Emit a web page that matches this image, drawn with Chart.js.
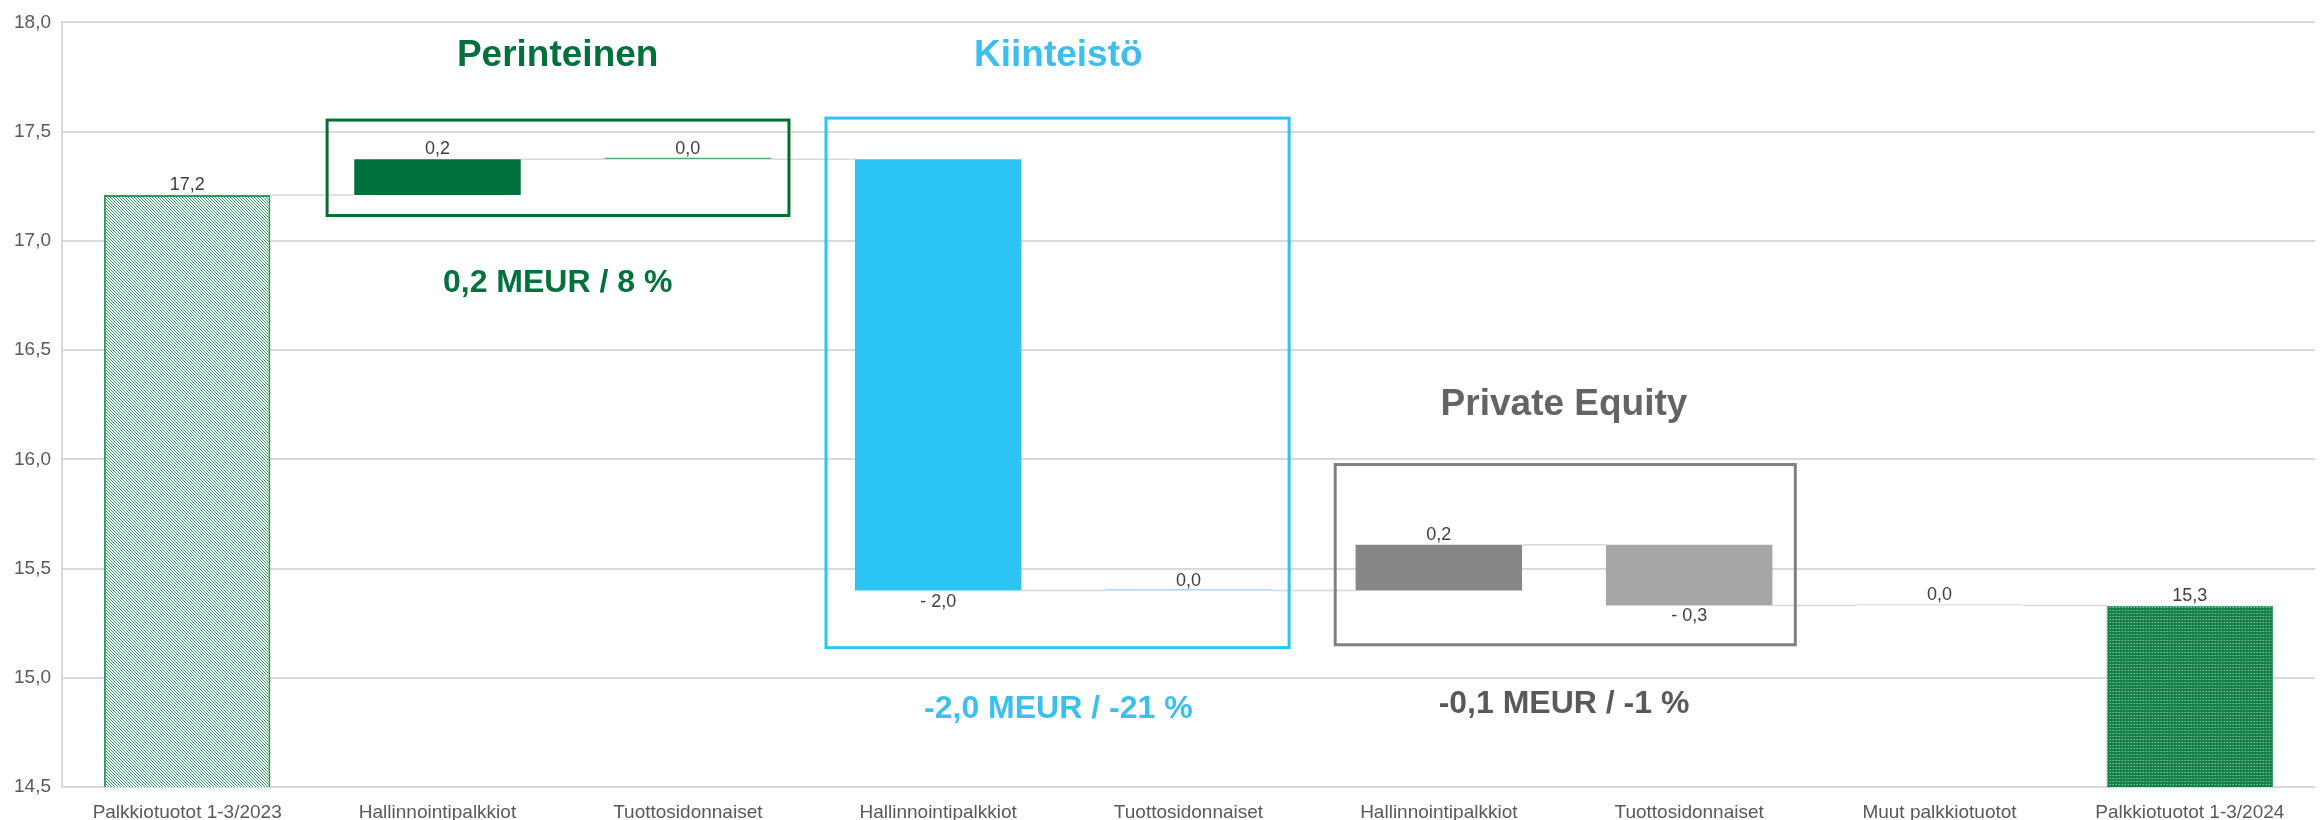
<!DOCTYPE html>
<html>
<head>
<meta charset="utf-8">
<title>Palkkiotuotot 1-3/2023 - 1-3/2024</title>
<script src="https://cdn.jsdelivr.net/npm/chart.js@4.4.1/dist/chart.umd.min.js"></script>
<style>
  html, body { margin: 0; padding: 0; background: #fff; }
  #wrap { width: 2321px; height: 820px; position: relative; }
</style>
</head>
<body>
<div id="wrap"><canvas id="feeChart"></canvas></div>
<script>
// Kategoriat (x-akseli)
const categories = [
    'Palkkiotuotot 1-3/2023',
    'Hallinnointipalkkiot',
    'Tuottosidonnaiset',
    'Hallinnointipalkkiot',
    'Tuottosidonnaiset',
    'Hallinnointipalkkiot',
    'Tuottosidonnaiset',
    'Muut palkkiotuotot',
    'Palkkiotuotot 1-3/2024'
];

// Alku- ja loppusumma (MEUR)
const totals = [17.21, 15.33];
// Muutokset välissä (MEUR)
const changes = [0.164, 0.0, -1.975, 0.0, 0.21, -0.278, 0.0];

// y-akselin asteikko
const yMin = 14.5;
const yMax = 18.0;
const yStep = 0.5;

// Ryhmät: otsikko ja yhteenveto
const groupTitles = ['Perinteinen', 'Kiinteistö', 'Private Equity'];
const groupSummaries = ['0,2 MEUR / 8 %', '-2,0 MEUR / -21 %', '-0,1 MEUR / -1 %'];

// Värit
const groupColors = ['#00703C', '#3CBFEF', '#646464'];

const canvas = document.getElementById('feeChart');
const ctx = canvas.getContext('2d');

// Vinoviivakuvio ensimmäiselle pylväälle
function makeHatch() {
    const c = document.createElement('canvas');
    c.width = 3; c.height = 3;
    const g = c.getContext('2d');
    g.fillStyle = '#ffffff';
    g.fillRect(0, 0, 3, 3);
    g.fillStyle = '#3a9f66';
    for (let i = 0; i < 3; i++) g.fillRect(i, i, 1, 1);
    return ctx.createPattern(c, 'repeat');
}

// Pistekuvio viimeiselle pylväälle
function makeDots() {
    const c = document.createElement('canvas');
    c.width = 3; c.height = 3;
    const g = c.getContext('2d');
    g.fillStyle = '#16804a';
    g.fillRect(0, 0, 3, 3);
    g.fillStyle = '#7cc29a';
    g.fillRect(1, 1, 1, 1);
    g.fillStyle = '#3f9e68';
    g.fillRect(0, 1, 1, 1);
    return ctx.createPattern(c, 'repeat');
}

// Rakennetaan vesiputouksen data
const barData = [totals[0]];
const levels = [totals[0]];
let running = totals[0];
changes.forEach(ch => {
    barData.push([running, running + ch]);
    running += ch;
    levels.push(running);
});
barData.push(totals[1]);
levels.push(totals[1]);

const labelValues = [totals[0], ...changes, totals[1]];

const barColors = [
    makeHatch(), '#00703C', '#4fae6f',
    '#2BC4F3', '#9fdcf5',
    '#878787', '#A6A6A6',
    '#e3e3e3', makeDots()
];
const borderColors = ['#2f9a5e', '#00703C', '#4fae6f', '#2BC4F3', '#9fdcf5', '#878787', '#A6A6A6', '#e3e3e3', '#2f9a5e'];
const borderWidths = [2, 0, 0, 0, 0, 0, 0, 0, 1];

function formatValue(v) {
    const s = Math.abs(v).toFixed(1).replace('.', ',');
    return v < -0.0001 ? '- ' + s : s;
}

// Laatikot ryhmien ympärillä (kategoria-indeksi, arvo)
const boxes = [
    { x0: 0.559, x1: 2.404, y0: 17.553, y1: 17.116, color: '#00702F' },
    { x0: 2.552, x1: 4.402, y0: 17.562, y1: 15.138, color: '#2DC3F2' },
    { x0: 4.586, x1: 6.424, y0: 15.976, y1: 15.151, color: '#808080' }
];
const texts = [
    { text: groupTitles[0], x: 1.48, y: 17.845, size: 37, color: groupColors[0] },
    { text: groupSummaries[0], x: 1.48, y: 16.806, size: 32, color: groupColors[0] },
    { text: groupTitles[1], x: 3.48, y: 17.845, size: 37, color: groupColors[1] },
    { text: groupSummaries[1], x: 3.48, y: 14.855, size: 32, color: groupColors[1] },
    { text: groupTitles[2], x: 5.5, y: 16.25, size: 37, color: groupColors[2] },
    { text: groupSummaries[2], x: 5.5, y: 14.877, size: 32, color: '#595959' }
];

const waterfallPlugin = {
    id: 'waterfall',
    beforeDatasetsDraw(chart) {
        const c = chart.ctx;
        const y = chart.scales.y;
        const bars = chart.getDatasetMeta(0).data;
        c.save();
        c.strokeStyle = '#d9d9d9';
        c.lineWidth = 1.5;
        for (let i = 0; i < bars.length - 1; i++) {
            const py = y.getPixelForValue(levels[i]);
            c.beginPath();
            c.moveTo(bars[i].x + bars[i].width / 2, py);
            c.lineTo(bars[i + 1].x - bars[i + 1].width / 2, py);
            c.stroke();
        }
        c.restore();
    },
    afterDatasetsDraw(chart) {
        const c = chart.ctx;
        const y = chart.scales.y;
        const bars = chart.getDatasetMeta(0).data;
        c.save();
        c.font = '18px "Liberation Sans", Arial, sans-serif';
        c.fillStyle = '#404040';
        c.textAlign = 'center';
        bars.forEach((bar, i) => {
            const v = labelValues[i];
            if (v < -0.0001) {
                c.textBaseline = 'top';
                c.fillText(formatValue(v), bar.x, y.getPixelForValue(levels[i]) + 2);
            } else {
                c.textBaseline = 'alphabetic';
                c.fillText(formatValue(v), bar.x, y.getPixelForValue(levels[i]) - 5);
            }
        });
        c.restore();
    },
    afterDraw(chart) {
        const c = chart.ctx;
        const x = chart.scales.x;
        const y = chart.scales.y;
        c.save();
        c.lineWidth = 3;
        boxes.forEach(b => {
            c.strokeStyle = b.color;
            const px0 = x.getPixelForValue(b.x0);
            const px1 = x.getPixelForValue(b.x1);
            const py0 = y.getPixelForValue(b.y0);
            const py1 = y.getPixelForValue(b.y1);
            c.strokeRect(px0, py0, px1 - px0, py1 - py0);
        });
        c.textAlign = 'center';
        c.textBaseline = 'middle';
        texts.forEach(t => {
            c.font = 'bold ' + t.size + 'px "Liberation Sans", Arial, sans-serif';
            c.fillStyle = t.color;
            c.fillText(t.text, x.getPixelForValue(t.x), y.getPixelForValue(t.y));
        });
        c.restore();
    }
};

new Chart(ctx, {
    type: 'bar',
    data: {
        labels: categories,
        datasets: [{
            data: barData,
            backgroundColor: barColors,
            borderColor: borderColors,
            borderWidth: borderWidths,
            borderSkipped: 'bottom',
            minBarLength: 1.5,
            categoryPercentage: 1.0,
            barPercentage: 0.665
        }]
    },
    options: {
        responsive: true,
        maintainAspectRatio: false,
        animation: false,
        layout: { padding: { top: 8, right: 6, left: 0, bottom: 0 } },
        plugins: {
            legend: { display: false },
            tooltip: { enabled: false }
        },
        scales: {
            x: {
                grid: { display: false },
                border: { display: false },
                ticks: {
                    color: '#595959',
                    font: { family: '"Liberation Sans", Arial, sans-serif', size: 19 },
                    padding: 6,
                    maxRotation: 0,
                    autoSkip: false
                },
                afterFit(scale) { scale.height = 33; }
            },
            y: {
                min: yMin,
                max: yMax,
                grid: { color: '#d9d9d9', lineWidth: 2, drawTicks: false },
                border: { display: true, color: '#d9d9d9', width: 2 },
                ticks: {
                    stepSize: yStep,
                    color: '#595959',
                    padding: 11,
                    font: { family: '"Liberation Sans", Arial, sans-serif', size: 19 },
                    callback: v => v.toFixed(1).replace('.', ',')
                },
                afterFit(scale) { scale.width = 62; }
            }
        }
    },
    plugins: [waterfallPlugin]
});
</script>
</body>
</html>
